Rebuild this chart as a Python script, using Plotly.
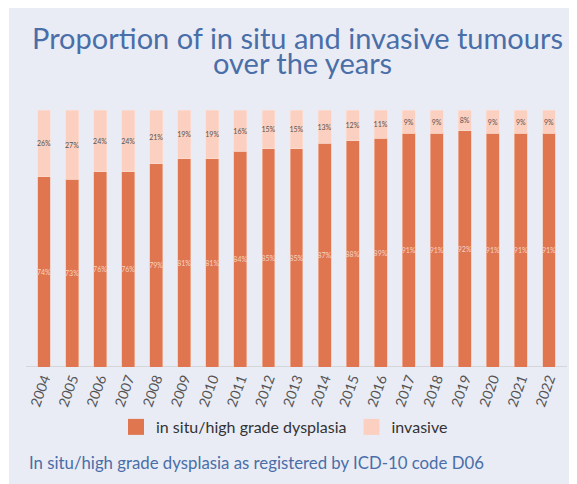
import plotly.graph_objects as go

years = ["2004", "2005", "2006", "2007", "2008", "2009", "2010", "2011", "2012", "2013",
         "2014", "2015", "2016", "2017", "2018", "2019", "2020", "2021", "2022"]
in_situ = [74, 73, 76, 76, 79, 81, 81, 84, 85, 85, 87, 88, 89, 91, 91, 92, 91, 91, 91]
invasive = [26, 27, 24, 24, 21, 19, 19, 16, 15, 15, 13, 12, 11, 9, 9, 8, 9, 9, 9]

C_INSITU = "#e07650"
C_INV = "#fcd0c0"
BG = "#e9ecf5"
BLUE = "#4a6ea8"
FONT = "Lato, sans-serif"

# figure pixel geometry (page is offset by 8px body margin)
W, H = 569, 476
L, R, T, B = 22, 14, 102, 117
PW, PH = W - L - R, H - T - B


def px_x(x):
    return (x - L) / PW


def px_y(y):
    return 1 + (T - y) / PH


fig = go.Figure()
fig.add_bar(x=years, y=in_situ, name="in situ/high grade dysplasia", showlegend=False,
            marker=dict(color=C_INSITU, line=dict(color="#f2c4b2", width=0.6)),
            text=[f"{v}%" for v in in_situ], textposition="inside", insidetextanchor="middle",
            textangle=0, textfont=dict(size=7, color="#f6d3c5"))
fig.add_bar(x=years, y=invasive, name="invasive", showlegend=False,
            marker=dict(color=C_INV, line=dict(color="#fbe0d6", width=0.6)),
            text=[f"{v}%" for v in invasive], textposition="inside", insidetextanchor="middle",
            textangle=0, textfont=dict(size=7, color="#555555"))
# legend entries
fig.add_scatter(x=[None], y=[None], mode="markers", name="in situ/high grade dysplasia",
                marker=dict(symbol="square", size=16, color=C_INSITU))
fig.add_scatter(x=[None], y=[None], mode="markers", name="invasive",
                marker=dict(symbol="square", size=16, color=C_INV))

fig.update_layout(
    barmode="stack",
    bargap=0.54,
    width=W, height=H,
    paper_bgcolor="white",
    plot_bgcolor=BG,
    font=dict(family=FONT),
    margin=dict(l=L, r=R, t=T, b=B, autoexpand=False),
    uniformtext=dict(minsize=7, mode="show"),
    showlegend=True,
    legend=dict(orientation="h", x=px_x(108), xanchor="left", y=px_y(419), yanchor="middle",
                font=dict(size=16, color="#333333"), bgcolor="rgba(0,0,0,0)",
                traceorder="normal", itemsizing="trace"),
    shapes=[
        dict(type="rect", xref="paper", yref="paper", x0=px_x(1), x1=px_x(W + 2),
             y0=px_y(H + 2), y1=px_y(-1), fillcolor=BG, line=dict(width=0), layer="below"),
        dict(type="line", xref="paper", yref="y", x0=px_x(18), x1=px_x(559), y0=0, y1=0,
             line=dict(color="#d4d6da", width=2), layer="below"),
    ],
    annotations=[
        dict(text="Proportion of in situ and invasive tumours", xref="paper", yref="paper",
             x=px_x(289.5), xanchor="center", y=px_y(29), yanchor="middle", showarrow=False,
             font=dict(size=29, color=BLUE)),
        dict(text="over the years", xref="paper", yref="paper",
             x=px_x(294), xanchor="center", y=px_y(54.5), yanchor="middle", showarrow=False,
             font=dict(size=29, color=BLUE)),
        dict(text="In situ/high grade dysplasia as registered by ICD-10 code D06",
             xref="paper", yref="paper", x=px_x(19), xanchor="left",
             y=px_y(454), yanchor="middle", showarrow=False,
             font=dict(size=16.8, color=BLUE)),
    ],
)
fig.update_xaxes(tickangle=-70, tickfont=dict(size=14, color="#555555"), showgrid=False,
                 showline=False, ticks="", automargin=False, range=[-0.5, len(years) - 0.5])
fig.update_yaxes(range=[0, 100], visible=False, showgrid=False)

fig.write_html("out.html")
